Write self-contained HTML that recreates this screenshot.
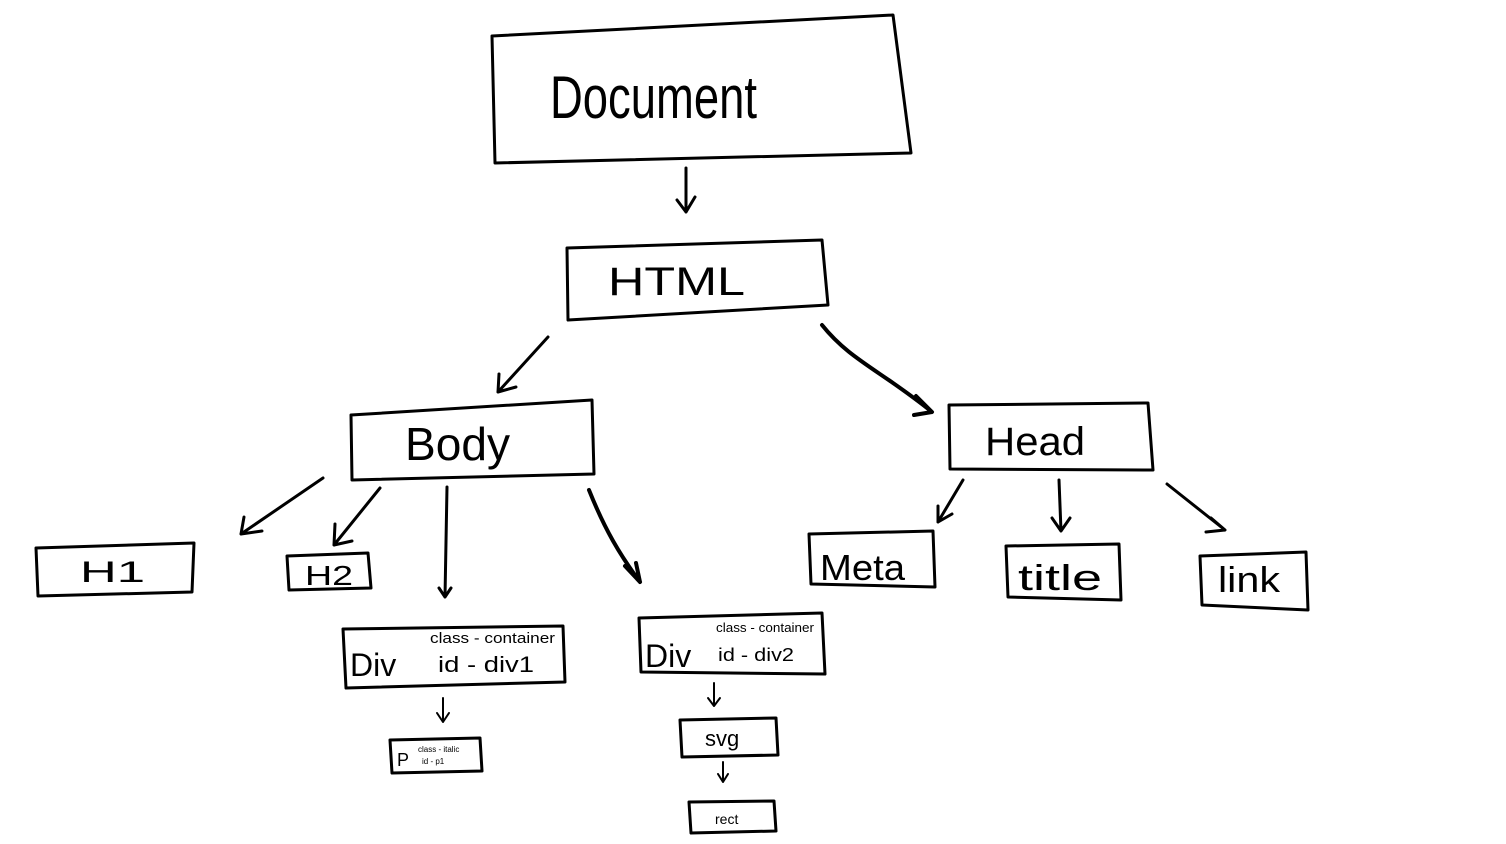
<!DOCTYPE html>
<html><head><meta charset="utf-8"><style>
html,body{margin:0;padding:0;background:#fff;}
svg{display:block}
text{font-family:"Liberation Sans",sans-serif;fill:#000;font-weight:300;}
</style></head><body>
<svg width="1506" height="844" viewBox="0 0 1506 844" xmlns="http://www.w3.org/2000/svg">
<g fill="none" stroke="#000" stroke-width="3" stroke-linejoin="round" stroke-linecap="round">
<path d="M492,36 L893,15 L911,153 L495,163 Z"/>
<path d="M567,248 L822,240 L828,305 L568,320 Z"/>
<path d="M351,415 L592,400 L594,474 L352,480 Z"/>
<path d="M949,405 L1148,403 L1153,470 L950,469 Z"/>
<path d="M36,548 L194,543 L192,592 L38,596 Z"/>
<path d="M287,556 L368,553 L371,588 L289,590 Z"/>
<path d="M343,629 L563,626 L565,682 L346,688 Z"/>
<path d="M390,740 L480,738 L482,771 L392,773 Z"/>
<path d="M639,618 L822,613 L825,674 L641,672 Z"/>
<path d="M680,720 L776,718 L778,755 L682,757 Z"/>
<path d="M689,802 L774,801 L776,831 L691,833 Z"/>
<path d="M809,534 L933,531 L935,587 L811,584 Z"/>
<path d="M1006,546 L1119,544 L1121,600 L1008,597 Z"/>
<path d="M1200,556 L1306,552 L1308,610 L1202,605 Z"/>
<path d="M686,168 L686,212 M677,200 L686,212 L695,197"/>
<path d="M548,337 L498,392 M499,374 L498,392 L516,387"/>
<path d="M822,325 C850,360 880,370 932,412 M916,396 L932,412 L914,415" stroke-width="4"/>
<path d="M323,478 L241,534 M244,517 L241,534 L262,531"/>
<path d="M380,488 L334,545 M335,524 L334,545 L352,541"/>
<path d="M447,487 L445,597 M439,588 L445,597 L451,588"/>
<path d="M589,490 C605,530 620,555 640,582 M625,566 L640,582 L636,563" stroke-width="4"/>
<path d="M443,698 L443,722 M437,713 L443,722 L449,713" stroke-width="2"/>
<path d="M714,683 L714,706 M708,698 L714,706 L720,698" stroke-width="2"/>
<path d="M723,762 L723,782 M718,774 L723,782 L728,774" stroke-width="2"/>
<path d="M963,480 L938,522 M938,506 L938,522 L952,514"/>
<path d="M1059,480 L1061,531 M1052,518 L1061,531 L1070,518"/>
<path d="M1167,484 L1225,530 M1211,518 L1225,530 L1206,532"/>
</g>
<g lengthAdjust="spacingAndGlyphs">
<text x="550" y="118" font-size="60" textLength="207" lengthAdjust="spacingAndGlyphs">Document</text>
<text x="608" y="295" font-size="40" textLength="137" lengthAdjust="spacingAndGlyphs">HTML</text>
<text x="405" y="460" font-size="46" textLength="105" lengthAdjust="spacingAndGlyphs">Body</text>
<text x="985" y="455" font-size="40" textLength="100" lengthAdjust="spacingAndGlyphs">Head</text>
<text x="80" y="582" font-size="30" textLength="65" lengthAdjust="spacingAndGlyphs">H1</text>
<text x="305" y="585" font-size="28" textLength="48" lengthAdjust="spacingAndGlyphs">H2</text>
<text x="350" y="676" font-size="32">Div</text>
<text x="438" y="672" font-size="22" textLength="96" lengthAdjust="spacingAndGlyphs">id - div1</text>
<text x="430" y="643" font-size="15" textLength="125" lengthAdjust="spacingAndGlyphs">class - container</text>
<text x="397" y="766" font-size="18">P</text>
<text x="418" y="752" font-size="8">class - italic</text>
<text x="422" y="764" font-size="8">id - p1</text>
<text x="645" y="667" font-size="32">Div</text>
<text x="716" y="632" font-size="13" textLength="98" lengthAdjust="spacingAndGlyphs">class - container</text>
<text x="718" y="661" font-size="18" textLength="76" lengthAdjust="spacingAndGlyphs">id - div2</text>
<text x="705" y="746" font-size="22">svg</text>
<text x="715" y="824" font-size="14">rect</text>
<text x="820" y="580" font-size="36" textLength="85" lengthAdjust="spacingAndGlyphs">Meta</text>
<text x="1018" y="590" font-size="36" textLength="84" lengthAdjust="spacingAndGlyphs">title</text>
<text x="1218" y="592" font-size="36" textLength="62" lengthAdjust="spacingAndGlyphs">link</text>
</g>
</svg>
</body></html>
